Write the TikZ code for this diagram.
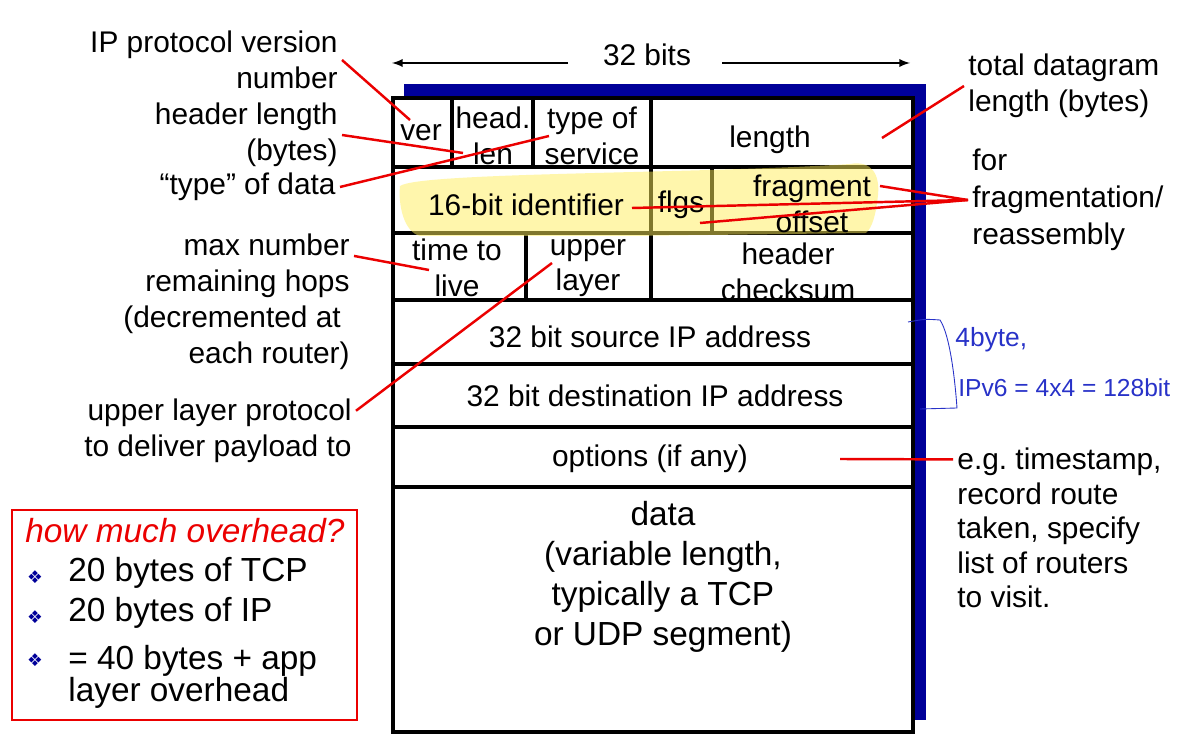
\documentclass[tikz,border=0pt]{standalone}
\usepackage{fontspec}
\setmainfont{Liberation Sans}
\newfontfamily\symbfont{DejaVu Sans}
\usetikzlibrary{calc}

\definecolor{navy}{RGB}{0,0,153}
\definecolor{pointer}{RGB}{235,0,0}
\definecolor{marker}{RGB}{255,238,90}
\definecolor{pen}{RGB}{40,50,200}

\tikzset{
  field/.style={align=center, inner sep=0pt},
  note/.style={align=right, inner sep=0pt, outer sep=2.5pt},
  rnote/.style={align=left, inner sep=0pt, outer sep=2.5pt},
  pointer/.style={draw=pointer, line width=1.4pt},
  item/.style={anchor=west, align=left, inner sep=0pt, font=\fontsize{19}{18.2}\selectfont},
  bullet/.style={text=navy, inner sep=0pt, font=\symbfont\fontsize{10}{10}\selectfont},
  scribble/.style={text=pen, inner sep=0pt}
}

\begin{document}
\begin{tikzpicture}[x=0.02cm, y=-0.02cm, >=latex, font=\fontsize{17}{20.4}\selectfont]
    \useasboundingbox (0,0) rectangle (1181,742);

        % ==========================================
        % 1. DATAGRAM FRAME (shadow + table)
        % ==========================================
        \fill[navy] (404,84) rectangle (926,720);
        \fill[white] (393,98) rectangle (913,732);
        \draw[line width=2.3pt] (393,98) rectangle (913,732);
        \foreach \y in {167,233,300,364,427,487}
            \draw[line width=2.3pt] (393,\y) -- (913,\y);
        % vertical separators row by row
        \foreach \x in {452,533,651}
            \draw[line width=2.3pt] (\x,98) -- (\x,167);
        \foreach \x in {651,712}
            \draw[line width=2.3pt] (\x,167) -- (\x,233);
        \foreach \x in {526,651}
            \draw[line width=2.3pt] (\x,233) -- (\x,300);

        % highlighter stroke over the second row
        \fill[marker, opacity=0.5] (400,186) .. controls (420,172) and (700,174) .. (850,164)
            .. controls (872,160) and (880,175) .. (878,195)
            .. controls (876,215) and (872,228) .. (866,233) -- (630,236) -- (420,236)
            .. controls (404,232) and (398,205) .. (400,186) -- cycle;

        % ==========================================
        % 2. HEADER FIELDS
        % ==========================================
        \node[field] (bits) at (647,55) {32 bits};
        \coordinate (bitsL) at (392,63);
        \coordinate (bitsR) at (910,63);
        \draw[->, line width=1.1pt] (568,63) -- (bitsL);
        \draw[->, line width=1.1pt] (722,63) -- (bitsR);

        \node[field] (ver) at (421,133) {ver};
        \node[field] (hlen) at (493,136) {head.\\len};
        \node[field] (tos) at (592,136) {type of\\service};
        \node[field] (len) at (770,140) {length};

        \node[field] (ident) at (526,205) {16-bit identifier};
        \node[field] (flgs) at (681,205) {flgs};
        \node[field] (fragoff) at (812,204) {fragment\\offset};

        \node[field] (ttl) at (457,268) {time to\\live};
        \node[field] (proto) at (588,268) {upper\\layer};
        \node[field] (csum) at (788,272) {header\\checksum};

        \node[field] (src) at (650,337) {32 bit source IP address};
        \node[field] (dst) at (655,396) {32 bit destination IP address};
        \node[field] (opts) at (650,459) {options (if any)};
        \node[field, font=\fontsize{19}{22.7}\selectfont] (data) at (663,577)
            {data\\(variable length,\\typically a TCP\\or UDP segment)};

        % ==========================================
        % 3. LEFT NOTES
        % ==========================================
        \node[note, anchor=east] (vers) at (342,60) {IP protocol version\\number};
        \node[note, anchor=east] (hlenl) at (342,135) {header length\\(bytes)};
        \node[note, anchor=east] (tosl) at (340,187) {“type” of data};
        \node[note, anchor=east] (hops) at (354,302) {max number\\remaining hops\\(decremented at\kern5pt\\each router)};
        \node[note, anchor=east] (upl) at (356,431) {upper layer protocol\\to deliver payload to};

        % pointers into the fields
        \coordinate (verp) at (410,120);
        \coordinate (hlenp) at (463,153);
        \coordinate (tosp) at (549,136);
        \coordinate (ttlp) at (429,270);
        \coordinate (protop) at (552,263);
        \draw[pointer] (vers.east) -- (verp);
        \draw[pointer] (hlenl.east) -- (hlenp);
        \draw[pointer] (tosl.east) -- (tosp);
        \draw[pointer] ($(hops.north east)+(0,26)$) -- (ttlp);
        \draw[pointer] ($(upl.north east)+(0,16)$) -- (protop);

        % ==========================================
        % 4. RIGHT NOTES
        % ==========================================
        \node[rnote, anchor=west] (totl) at (964,86) {total datagram\\length (bytes)};
        \node[rnote, anchor=west, font=\fontsize{17}{21}\selectfont] (frag) at (968,200) {for\\fragmentation/\\reassembly};
        \node[rnote, anchor=west, font=\fontsize{17}{19.7}\selectfont] (eg) at (953,528)
            {e.g.\ timestamp,\\record route\\taken, specify\\list of routers\\to visit.};

        \coordinate (totp) at (882,138);
        \coordinate (fragp) at (880,186);
        \coordinate (identp) at (632,208);
        \coordinate (offp) at (700,223);
        \coordinate (optp) at (840,459);
        \draw[pointer] (totl.west) -- (totp);
        \draw[pointer] (frag.west) -- (fragp);
        \draw[pointer] (frag.west) -- (identp);
        \draw[pointer] (frag.west) -- (offp);
        \draw[pointer] ($(eg.north west)+(0,16)$) -- (optp);

        % handwritten remark next to the addresses
        \draw[pen, line width=0.5pt] (908,322) .. controls (925,319) .. (940,320)
            .. controls (950,335) and (955,380) .. (957,408) -- (920,409);
        \node[scribble, anchor=west, font=\fontsize{15}{15}\selectfont] (hw1) at (955,340) {4byte,};
        \node[scribble, anchor=west, font=\fontsize{14}{14}\selectfont] (hw2) at (958,388) {IPv6 = 4x4 = 128bit};

        % ==========================================
        % 5. OVERHEAD BOX
        % ==========================================
        \draw[pointer, line width=0.8pt] (12,510) rectangle (357,720);
        \node[anchor=west, inner sep=0pt, text=pointer, font=\fontsize{19}{22}\selectfont\itshape] (ask) at (25,531) {how much overhead?};
        \foreach \y [count=\i] in {577,617,660}
            \node[bullet] (b\i) at (35,\y) {❖};
        \node[item] (tcp) at (68,573) {20 bytes of TCP};
        \node[item] (ip) at (68,613) {20 bytes of IP};
        \node[item] (sum) at (68,677) {= 40 bytes + app\\layer overhead};

\end{tikzpicture}
\end{document}
